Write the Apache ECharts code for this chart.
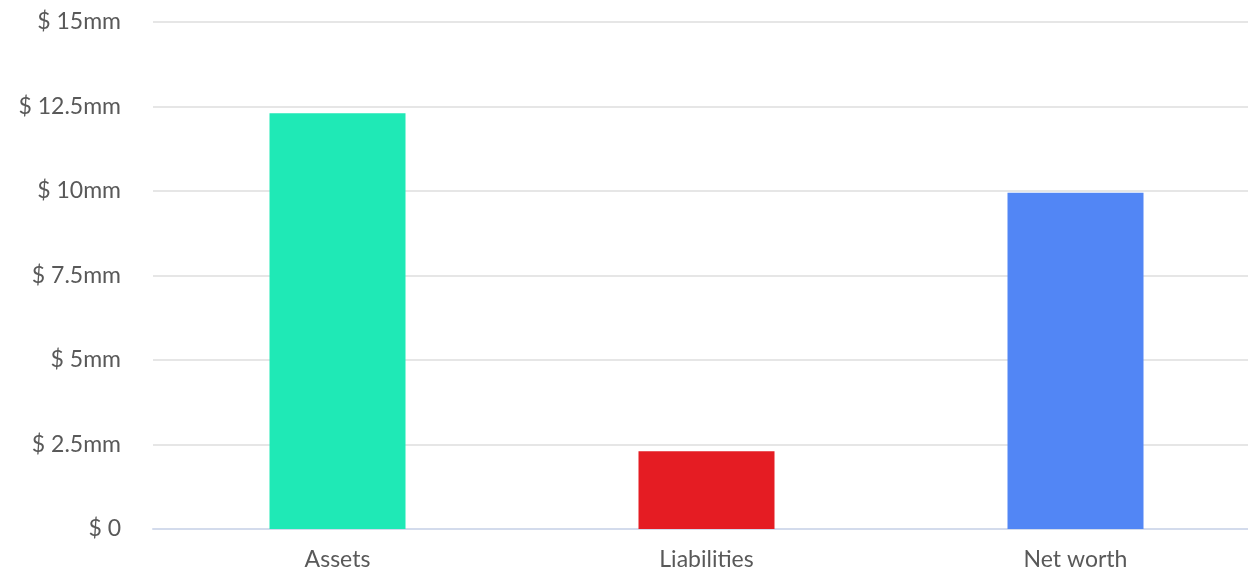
<!DOCTYPE html>
<html>
<head>
<meta charset="utf-8">
<script src="https://cdn.jsdelivr.net/npm/echarts@6/dist/echarts.min.js"></script>
<style>
html,body{margin:0;padding:0;background:#fff;}
#chart{width:1248px;height:569px;}
</style>
</head>
<body>
<div id="chart"></div>
<script>
const categories = ["Assets", "Liabilities", "Net worth"];
const values = [12.3, 2.3, 9.95];
const barColors = ["#1fe9b6", "#e51c23", "#5286f5"];
const yTicks = [0, 2.5, 5, 7.5, 10, 12.5, 15];

const chart = echarts.init(document.getElementById('chart'));
chart.setOption({
  animation: false,
  grid: { left: 153, width: 1107, top: 22, bottom: 40, containLabel: false, outerBoundsMode: 'none' },
  xAxis: {
    type: 'category',
    data: categories,
    axisTick: { show: false },
    axisLine: { lineStyle: { color: '#d3dbec', width: 2 } },
    axisLabel: { color: '#595959', fontSize: 23, fontFamily: 'Lato', margin: 19 }
  },
  yAxis: {
    type: 'value',
    min: yTicks[0],
    max: yTicks[yTicks.length - 1],
    interval: 2.5,
    axisLine: { show: false },
    axisTick: { show: false },
    splitLine: { lineStyle: { color: '#e6e6e6', width: 2 } },
    axisLabel: {
      color: '#595959', fontSize: 23, fontFamily: 'Lato', margin: 32,
      formatter: v => v === 0 ? '$ 0' : '$ ' + v + 'mm'
    }
  },
  series: [{
    type: 'bar',
    barWidth: 136,
    data: values.map((v, i) => ({ value: v, itemStyle: { color: barColors[i] } }))
  }]
});
</script>
</body>
</html>
